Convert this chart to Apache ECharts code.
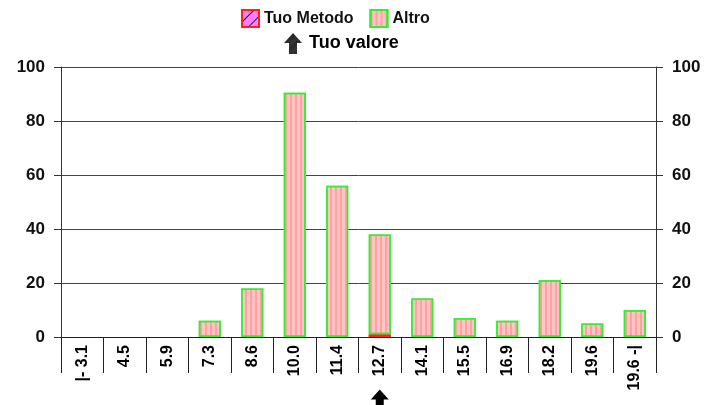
<!DOCTYPE html>
<html><head><meta charset="utf-8">
<script src="https://cdn.jsdelivr.net/npm/echarts@6/dist/echarts.min.js"></script>
<style>html,body{margin:0;padding:0;background:#fff}#c{width:711px;height:405px}</style>
</head><body><div id="c"></div>
<script>
const categories = ['|- 3.1','4.5','5.9','7.3','8.6','10.0','11.4','12.7','14.1','15.5','16.9','18.2','19.6','19.6 -|'];
const tuoMetodo = [0,0,0,0,0,0,0,1,0,0,0,0,0,0];
const altro = [0,0,0,6,18,90.5,56,37,14.3,7,6,21,5,10];
const yTicks = [0,20,40,60,80,100];
const tuoValoreCategory = '12.7';

const FONT = '"Liberation Sans", Arial, sans-serif';
const ARROW = 'path://M9,0 L18,10 L13,10 L13,21 L5,21 L5,10 L0,10 Z';
const hideZero = v => (v === 0 ? null : v);

const chart = echarts.init(document.getElementById('c'), null, {renderer:'canvas'});
const yAxisCommon = {
  type:'value', min:yTicks[0], max:yTicks[yTicks.length-1], interval:20,
  axisLine:{show:true, lineStyle:{color:'#333', width:1}},
  axisTick:{show:true, length:7, lineStyle:{color:'#333'}},
  axisLabel:{color:'#111', fontFamily:FONT, fontWeight:'bold', fontSize:17, margin:16},
};
chart.setOption({
  animation:false,
  aria:{enabled:true, decal:{show:true}},
  grid:{left:61, right:55, top:67, bottom:68},
  legend:[{
    left:236, top:4, itemWidth:17, itemHeight:17, itemGap:16, icon:'rect',
    data:['Tuo Metodo','Altro'],
    textStyle:{fontFamily:FONT, fontWeight:'bold', fontSize:16, color:'#111'}
  },{
    left:279, top:28, itemWidth:18, itemHeight:21,
    data:[{name:'Tuo valore', icon:ARROW}],
    textStyle:{fontFamily:FONT, fontWeight:'bold', fontSize:18, color:'#000', padding:[0,0,0,2]}
  }],
  xAxis:{
    type:'category', data:categories, boundaryGap:true,
    axisLine:{show:true, lineStyle:{color:'#222', width:1}},
    axisTick:{show:true, length:36, interval:0, lineStyle:{color:'#222'}},
    axisLabel:{rotate:90, interval:0, margin:8, color:'#000', fontFamily:FONT, fontWeight:'bold', fontSize:16}
  },
  yAxis:[
    Object.assign({}, yAxisCommon, {position:'left', splitLine:{show:true, lineStyle:{color:'#444', width:1}}}),
    Object.assign({}, yAxisCommon, {position:'right', splitLine:{show:false}})
  ],
  series:[{
    name:'Tuo Metodo', type:'bar', stack:'s', data:tuoMetodo.map(hideZero), barWidth:22,
    itemStyle:{color:'#ff80ff', borderColor:'#ff2020', borderWidth:1.5,
      decal:{symbol:'rect', color:'rgba(0,0,0,0.8)', dashArrayX:[1,0], dashArrayY:[1,7], rotation:-Math.PI/4, symbolSize:1}}
  },{
    name:'Altro', type:'bar', stack:'s', data:altro.map(hideZero), barWidth:22,
    itemStyle:{color:'#ffc4c4', borderColor:'#33ee33', borderWidth:1.5,
      decal:{symbol:'rect', color:'rgba(255,120,120,0.45)', dashArrayX:[2,3], dashArrayY:[4,0], rotation:0, symbolSize:1}}
  },{
    name:'Tuo valore', type:'scatter', data:[], symbol:ARROW, itemStyle:{color:'#000'},
    markPoint:{
      symbol:ARROW, symbolSize:[18,21], symbolOffset:[0,63], itemStyle:{color:'#000'},
      label:{show:false},
      data:[{coord:[tuoValoreCategory, 0]}]
    }
  }]
});
</script></body></html>
